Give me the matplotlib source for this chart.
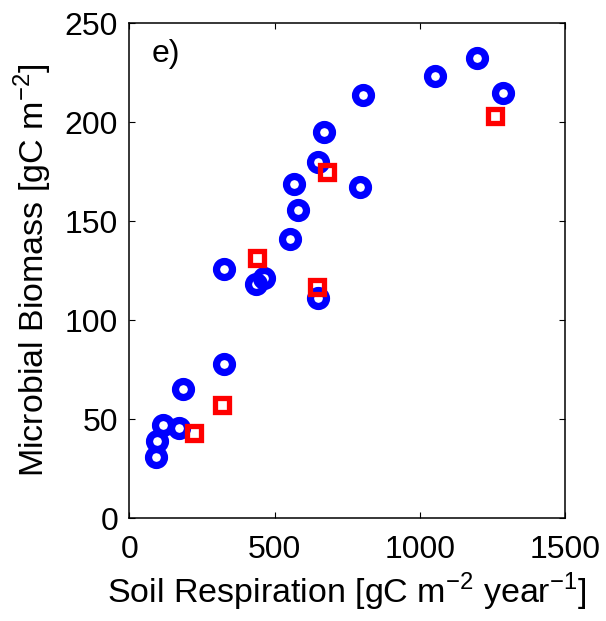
import matplotlib
matplotlib.use("Agg")
import matplotlib.pyplot as plt

plt.rcParams['font.family'] = ['Liberation Sans', 'DejaVu Sans']
plt.rcParams['mathtext.fontset'] = 'custom'
plt.rcParams['mathtext.rm'] = 'Liberation Sans'

# blue circles
resp_a = [93, 96, 115, 172, 186, 327, 327, 436, 465, 553, 568, 582,
          651, 651, 671, 794, 805, 1052, 1197, 1286]
biom_a = [30.8, 38.9, 47.1, 45.8, 65.5, 77.8, 125.8, 118.2, 121.2, 141.1, 169.0, 155.7,
          179.8, 111.1, 195.3, 167.5, 214.0, 223.4, 232.3, 215.0]

# red squares
resp_b = [222, 320, 438, 645, 680, 1258]
biom_b = [42.9, 57.1, 131.3, 116.7, 175.0, 203.2]

xticks = [0, 500, 1000, 1500]
yticks = [0, 50, 100, 150, 200, 250]

fig = plt.figure(figsize=(6.06, 6.21), dpi=100)
ax = fig.add_axes([0.2134, 0.1654, 0.7190, 0.7971])

ax.plot(resp_a, biom_a, linestyle='none', marker='o', markersize=11.5,
        markerfacecolor='none', markeredgecolor='blue', markeredgewidth=5.2)
ax.plot(resp_b, biom_b, linestyle='none', marker='s', markersize=9.5,
        markerfacecolor='none', markeredgecolor='red', markeredgewidth=3.8)

ax.set_xlim(0, 1500)
ax.set_ylim(0, 250)
ax.set_xticks(xticks)
ax.set_yticks(yticks)
ax.tick_params(direction='in', length=4, width=0.8, labelsize=23,
               top=True, right=True)
ax.tick_params(axis='x', pad=12)
ax.tick_params(axis='y', pad=8)
for s in ax.spines.values():
    s.set_linewidth(1.1)

ax.set_xlabel(r'Soil Respiration [gC m$^{-2}$ year$^{-1}$]', fontsize=24.5, labelpad=4)
ax.set_ylabel(r'Microbial Biomass [gC m$^{-2}$]', fontsize=24.5, labelpad=8)

ax.text(78, 230.6, 'e)', fontsize=23, va='baseline', ha='left')

fig.savefig('out.png', dpi=100)
